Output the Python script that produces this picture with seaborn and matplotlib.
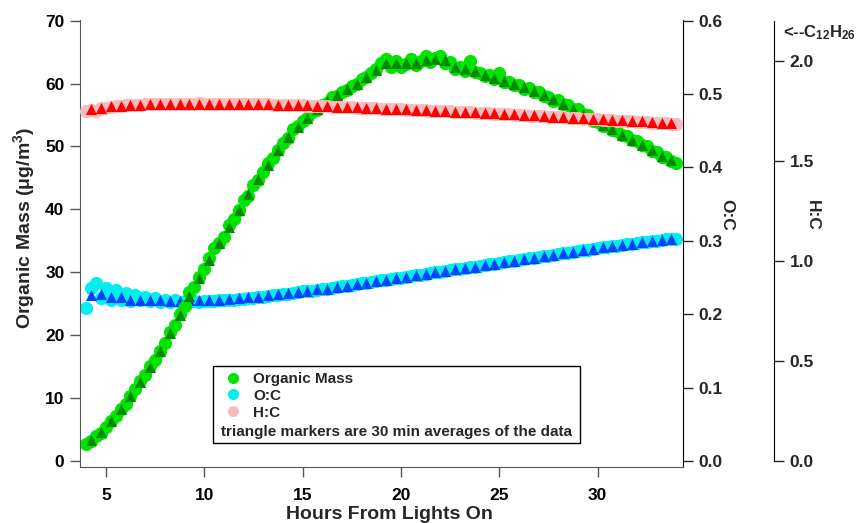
import numpy as np
import seaborn as sns
import matplotlib.pyplot as plt
from matplotlib.lines import Line2D
from matplotlib.patches import Rectangle

# sampling grids (hours from lights on)
raw_hours = np.arange(4.0, 34.01, 0.25)
avg_hours = np.arange(4.25, 33.76, 0.5)

# organic mass (ug/m3), raw data
mass_raw = [2.7, 3.2, 3.9, 4.5, 5.4, 6.3, 7.1, 8.2, 9.1, 10.4, 11.4, 12.7, 13.7, 15.1, 16.1, 17.5,
            18.8, 20.5, 21.7, 23.4, 24.7, 26.9, 27.6, 29.3, 30.5, 32.2, 33.9, 34.7, 35.6, 37.5, 38.4, 39.9,
            41.5, 42.2, 43.9, 44.6, 46.0, 47.3, 48.1, 49.5, 50.6, 51.4, 52.7, 53.3, 54.0, 54.5, 55.4, 55.8,
            56.6, 56.9, 57.8, 58.0, 58.7, 59.0, 59.6, 59.9, 60.7, 61.0, 61.7, 62.3, 63.3, 63.9, 62.7, 63.6,
            62.6, 63.1, 63.9, 62.9, 63.6, 64.4, 63.5, 64.1, 64.3, 63.3, 63.4, 62.3, 62.6, 62.0, 63.6, 61.8,
            61.7, 61.2, 61.3, 60.7, 61.6, 60.2, 60.2, 59.8, 59.8, 59.2, 59.3, 58.6, 58.7, 58.0, 57.9, 57.3,
            57.4, 56.7, 56.6, 55.9, 55.9, 55.1, 55.0, 54.1, 53.9, 53.3, 53.2, 52.6, 52.5, 51.8, 51.7, 51.0,
            50.9, 50.2, 50.0, 49.3, 49.1, 48.4, 48.3, 47.7, 47.3]
# 30 min averages
mass_avg = [3.3, 4.6, 6.3, 8.2, 10.3, 12.6, 15.0, 17.5, 20.3, 23.2, 26.2, 29.1, 32.0, 34.6, 37.2, 39.9,
            42.4, 44.8, 47.1, 49.4, 51.5, 53.1, 54.6, 56.0, 57.2, 58.2, 59.1, 60.0, 61.0, 62.2, 63.2, 63.2,
            63.2, 63.3, 63.8, 63.9, 63.7, 62.6, 62.3, 62.0, 61.4, 60.9, 60.4, 59.9, 59.4, 58.8, 58.1, 57.5,
            56.8, 56.0, 55.2, 54.3, 53.4, 52.7, 51.9, 51.1, 50.3, 49.4, 48.5, 47.8]

# O:C
oc_raw = [0.209, 0.236, 0.243, 0.222, 0.236, 0.219, 0.233, 0.220, 0.229, 0.218, 0.226, 0.219, 0.224, 0.218,
          0.222, 0.217, 0.220, 0.217, 0.219, 0.216, 0.218, 0.217, 0.218, 0.217, 0.218, 0.218, 0.218, 0.219,
          0.219, 0.220, 0.220, 0.221, 0.221, 0.222, 0.222, 0.223, 0.224, 0.225, 0.226, 0.226, 0.227, 0.228,
          0.229, 0.230, 0.231, 0.232, 0.232, 0.233, 0.234, 0.235, 0.236, 0.237, 0.238, 0.239, 0.240, 0.241,
          0.242, 0.243, 0.244, 0.245, 0.246, 0.247, 0.248, 0.249, 0.250, 0.251, 0.252, 0.253, 0.254, 0.255,
          0.256, 0.257, 0.258, 0.259, 0.260, 0.261, 0.262, 0.263, 0.264, 0.265, 0.266, 0.267, 0.268, 0.269,
          0.270, 0.271, 0.272, 0.273, 0.274, 0.275, 0.276, 0.277, 0.278, 0.279, 0.280, 0.281, 0.282, 0.283,
          0.284, 0.285, 0.286, 0.287, 0.288, 0.289, 0.290, 0.291, 0.292, 0.293, 0.293, 0.294, 0.295, 0.296,
          0.297, 0.298, 0.299, 0.300, 0.300, 0.301, 0.302, 0.303, 0.303]
oc_avg = [0.226, 0.227, 0.224, 0.223, 0.220, 0.220, 0.219, 0.219, 0.218, 0.218, 0.219, 0.219, 0.219, 0.220,
          0.221, 0.222, 0.223, 0.224, 0.226, 0.227, 0.229, 0.230, 0.232, 0.234, 0.235, 0.237, 0.239, 0.241,
          0.243, 0.245, 0.247, 0.249, 0.251, 0.253, 0.255, 0.257, 0.259, 0.261, 0.263, 0.265, 0.267, 0.269,
          0.271, 0.273, 0.275, 0.277, 0.279, 0.281, 0.283, 0.285, 0.287, 0.289, 0.291, 0.293, 0.294, 0.296,
          0.298, 0.300, 0.301, 0.303]

# H:C
hc_raw = [1.748, 1.752, 1.750, 1.761, 1.765, 1.768, 1.772, 1.774, 1.776, 1.778, 1.779, 1.780, 1.781, 1.782,
          1.782, 1.783, 1.784, 1.784, 1.784, 1.785, 1.785, 1.785, 1.785, 1.786, 1.785, 1.785, 1.785, 1.785,
          1.784, 1.784, 1.784, 1.783, 1.783, 1.783, 1.782, 1.782, 1.781, 1.781, 1.780, 1.779, 1.779, 1.778,
          1.777, 1.776, 1.776, 1.775, 1.774, 1.773, 1.772, 1.771, 1.770, 1.769, 1.768, 1.767, 1.766, 1.765,
          1.764, 1.763, 1.762, 1.761, 1.760, 1.759, 1.758, 1.757, 1.756, 1.755, 1.754, 1.753, 1.752, 1.751,
          1.750, 1.749, 1.748, 1.747, 1.746, 1.744, 1.743, 1.742, 1.741, 1.740, 1.738, 1.737, 1.736, 1.735,
          1.733, 1.732, 1.731, 1.729, 1.728, 1.727, 1.725, 1.724, 1.723, 1.721, 1.720, 1.719, 1.717, 1.716,
          1.714, 1.713, 1.711, 1.710, 1.708, 1.707, 1.706, 1.704, 1.703, 1.701, 1.700, 1.698, 1.697, 1.696,
          1.694, 1.693, 1.691, 1.690, 1.689, 1.687, 1.686, 1.685, 1.684]
hc_avg = [1.758, 1.765, 1.771, 1.775, 1.778, 1.780, 1.782, 1.783, 1.784, 1.784, 1.785, 1.785, 1.785, 1.785,
          1.784, 1.784, 1.783, 1.782, 1.781, 1.780, 1.779, 1.777, 1.776, 1.774, 1.772, 1.770, 1.768, 1.766,
          1.764, 1.762, 1.760, 1.758, 1.756, 1.754, 1.752, 1.750, 1.748, 1.745, 1.743, 1.741, 1.738, 1.736,
          1.733, 1.731, 1.728, 1.726, 1.723, 1.720, 1.718, 1.715, 1.712, 1.709, 1.707, 1.704, 1.701, 1.698,
          1.696, 1.693, 1.690, 1.687]

sns.set_style('ticks')
plt.rcParams['font.family'] = ['Liberation Sans', 'DejaVu Sans']
plt.rcParams['font.weight'] = 'bold'
plt.rcParams['axes.labelweight'] = 'bold'
plt.rcParams['mathtext.fontset'] = 'custom'
plt.rcParams['mathtext.rm'] = 'Liberation Sans:bold'
plt.rcParams['mathtext.bf'] = 'Liberation Sans:bold'
plt.rcParams['mathtext.default'] = 'bf'

green, dkgreen = '#00e400', '#008a00'
cyan, blue = '#00eeee', '#0044ff'
pink, red = '#f9bcbc', '#ff0000'

fig = plt.figure(figsize=(8.58, 5.23), dpi=100)
ax = fig.add_axes([79.7 / 858, 56 / 523, 603.3 / 858, 447 / 523])
ax2 = ax.twinx()
ax3 = ax.twinx()
ax3.spines['right'].set_position(('axes', 1.151))

ax2.set_zorder(1)
ax.set_zorder(2)
ax3.set_zorder(3)
ax.patch.set_visible(False)
ax3.patch.set_visible(False)

# O:C
sns.scatterplot(x=raw_hours, y=oc_raw, ax=ax2, color=cyan, s=90, linewidth=0, legend=False)
sns.scatterplot(x=avg_hours, y=oc_avg, ax=ax2, color=blue, marker='^', s=64, linewidth=0, legend=False)
# organic mass
sns.scatterplot(x=raw_hours, y=mass_raw, ax=ax, color=green, s=90, linewidth=0, legend=False)
sns.scatterplot(x=avg_hours, y=mass_avg, ax=ax, color=dkgreen, marker='^', s=64, linewidth=0, legend=False)
# H:C
sns.scatterplot(x=raw_hours, y=hc_raw, ax=ax3, color=pink, s=90, linewidth=0, legend=False)
sns.scatterplot(x=avg_hours, y=hc_avg, ax=ax3, color=red, marker='^', s=64, linewidth=0, legend=False)

ax.set_xlim(3.67, 34.34)
ax.set_ylim(-0.95, 70.1)
ax2.set_ylim(-0.95 * 0.6 / 70, 70.1 * 0.6 / 70)
ax3.set_ylim(-0.03, 2.203)

ax.set_xticks([5, 10, 15, 20, 25, 30])
ax.set_yticks(range(0, 71, 10))
ax2.set_yticks([0.0, 0.1, 0.2, 0.3, 0.4, 0.5, 0.6])
ax2.set_yticklabels(['0.0', '0.1', '0.2', '0.3', '0.4', '0.5', '0.6'])
ax3.set_yticks([0.0, 0.5, 1.0, 1.5, 2.0])
ax3.set_yticklabels(['0.0', '0.5', '1.0', '1.5', '2.0'])

for a in (ax, ax2, ax3):
    a.set_xlabel('')
    a.set_ylabel('')
    a.tick_params(direction='out', length=7, width=1, labelsize=12.5, pad=4)
    a.spines['top'].set_visible(False)
ax.spines['right'].set_visible(False)
for a in (ax2, ax3):
    a.spines['left'].set_visible(False)
    a.spines['bottom'].set_visible(False)
    a.spines['right'].set_color('black')
ax3.spines['right'].set_bounds(0, 2.2)
ax.spines['left'].set_color('#555555')
ax.spines['bottom'].set_color('#555555')
ax.tick_params(colors='#555555', labelcolor='black')
ax.tick_params(axis='x', pad=8)

# axis labels
ax.text(-0.092, 0.535, 'Organic Mass (μg/m$^{3}$)', transform=ax.transAxes, rotation=90,
        ha='center', va='center', fontsize=14)
ax.text(0.5135, -0.107, 'Hours From Lights On', transform=ax.transAxes,
        ha='center', va='center', fontsize=14)
ax.text(1.073, 0.564, 'O:C', transform=ax.transAxes, rotation=270,
        ha='center', va='center', fontsize=12.5)
ax.text(1.214, 0.564, 'H:C', transform=ax.transAxes, rotation=270,
        ha='center', va='center', fontsize=12.5)
ax.text(1.166, 0.971, '<--C$_{12}$H$_{26}$', transform=ax.transAxes,
        ha='left', va='center', fontsize=12, clip_on=False)

# legend
handles = [Line2D([], [], ls='none', marker='o', ms=8, mfc=c, mec='none') for c in (green, cyan, pink)]
ax3.legend(handles, ['Organic Mass', 'O:C', 'H:C'], loc='upper left', bbox_to_anchor=(0.2417, 0.2125),
           bbox_transform=ax3.transAxes, frameon=False, fontsize=11, borderpad=0, borderaxespad=0,
           handlelength=1.0, handletextpad=0.83, labelspacing=0.18)
ax3.add_patch(Rectangle((0.221, 0.0537), 0.608, 0.172, transform=ax3.transAxes, fill=False,
                        ec='black', lw=1, clip_on=False))
ax3.text(0.5245, 0.0783, 'triangle markers are 30 min averages of the data', transform=ax3.transAxes,
         ha='center', va='center', fontsize=11)

fig.savefig('out.png', dpi=100)
